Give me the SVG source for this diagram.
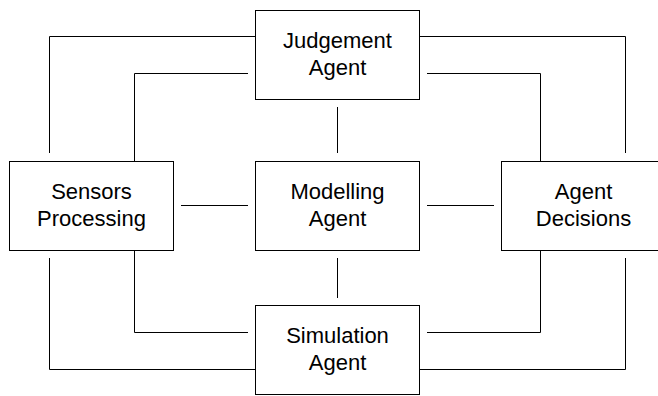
<svg xmlns="http://www.w3.org/2000/svg" width="658" height="396" viewBox="0 0 658 396">
<style>
.box{fill:#fff;stroke:#000;stroke-width:1}
.lbl{font-family:"Liberation Sans",Arial,sans-serif;font-size:22px;fill:#000;text-anchor:middle}
.con path{fill:none;stroke:#000;stroke-width:1}
</style>
<rect width="658" height="396" fill="#fff"/>
<g class="con" id="connectors">
<path d="M49.5,153 V36.5 H255.5"/>
<path d="M134.5,161.5 V73.5 H248"/>
<path d="M419.5,36.5 H625.5 V153"/>
<path d="M427,73.5 H540.5 V161.5"/>
<path d="M337.5,107 V153"/>
<path d="M181,205.5 H248"/>
<path d="M427,205.5 H494"/>
<path d="M337.5,258 V298"/>
<path d="M134.5,250.5 V332.5 H248"/>
<path d="M49.5,258 V369.5 H255.5"/>
<path d="M427,332.5 H540.5 V250.5"/>
<path d="M419.5,369.5 H625.5 V258"/>
</g>
<g id="judgement">
<rect class="box" x="255.5" y="10.5" width="164" height="89"/>
<text class="lbl" x="337.5" y="48">Judgement</text>
<text class="lbl" x="337.5" y="74.5">Agent</text>
</g>
<g id="sensors">
<rect class="box" x="9.5" y="161.5" width="164" height="89"/>
<text class="lbl" x="91.5" y="199">Sensors</text>
<text class="lbl" x="91.5" y="225.5">Processing</text>
</g>
<g id="modelling">
<rect class="box" x="255.5" y="161.5" width="164" height="89"/>
<text class="lbl" x="337.5" y="199">Modelling</text>
<text class="lbl" x="337.5" y="225.5">Agent</text>
</g>
<g id="decisions">
<rect class="box" x="501.5" y="161.5" width="164" height="89"/>
<text class="lbl" x="583.5" y="199">Agent</text>
<text class="lbl" x="583.5" y="225.5">Decisions</text>
</g>
<g id="simulation">
<rect class="box" x="255.5" y="305.5" width="164" height="89"/>
<text class="lbl" x="337.5" y="343">Simulation</text>
<text class="lbl" x="337.5" y="369.5">Agent</text>
</g>
</svg>
